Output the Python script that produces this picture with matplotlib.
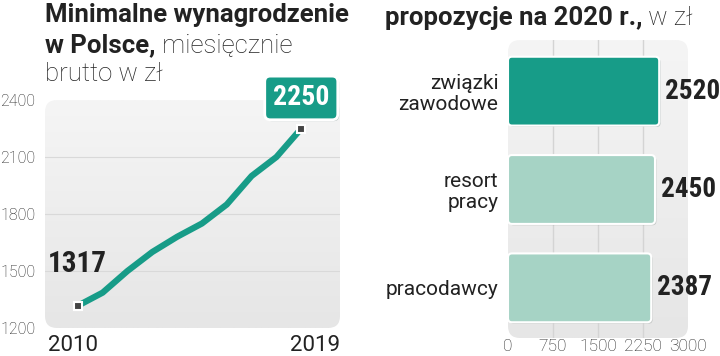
import numpy as np
import matplotlib
matplotlib.use("Agg")
import matplotlib.pyplot as plt
from matplotlib.patches import FancyBboxPatch
import matplotlib.patheffects as pe
from matplotlib import font_manager
from matplotlib.font_manager import FontProperties

# dane
years = [2010, 2011, 2012, 2013, 2014, 2015, 2016, 2017, 2018, 2019]
wages = [1317, 1386, 1500, 1600, 1680, 1750, 1850, 2000, 2100, 2250]
y_ticks = [1200, 1500, 1800, 2100, 2400]

categories = ["związki\nzawodowe", "resort\npracy", "pracodawcy"]
proposals = [2520, 2450, 2387]
x_ticks = [0, 750, 1500, 2250, 3000]

TEAL = "#179c88"
LIGHT = "#a6d3c5"
TXT = "#222222"

plt.rcParams["font.family"] = ["Roboto", "DejaVu Sans"]


def narrow_bold(size):
    # szukamy waskiego, pogrubionego kroju (liczby na wykresie)
    fonts = font_manager.fontManager.ttflist
    prefs = ["Roboto Condensed", "Liberation Sans Narrow", "DejaVu Sans Condensed",
             "Noto Sans Condensed", "Open Sans Condensed"]
    good = []
    for f in fonts:
        w = f.weight if isinstance(f.weight, int) else 700
        narrow = ("Narrow" in f.name or "Condensed" in f.name or "ondensed" in f.fname
                  or f.stretch in ("condensed", "semi-condensed", "extra-condensed"))
        if narrow and w >= 600 and "Italic" not in f.fname and f.style == "normal":
            good.append(f)
    if good:
        def rank(f):
            for i, p in enumerate(prefs):
                if p in f.name or p.replace(" ", "") in f.fname:
                    return i
            return len(prefs)
        good.sort(key=rank)
        return FontProperties(fname=good[0].fname, size=size)
    return FontProperties(family="Roboto", weight="bold", size=size * 0.85)


fig = plt.figure(figsize=(7.2, 3.56), dpi=100)
fig.patch.set_facecolor("white")


def panel(ax, w_px, h_px, r_px=12):
    # zaokraglone tlo z gradientem
    p = FancyBboxPatch((0, 0), 1, 1, boxstyle="round,pad=0,rounding_size=%f" % (r_px / w_px),
                       mutation_aspect=w_px / h_px, transform=ax.transAxes,
                       facecolor="none", edgecolor="none", zorder=0)
    ax.add_patch(p)
    grad = np.linspace(0, 1, 100).reshape(-1, 1)
    cmap = matplotlib.colors.LinearSegmentedColormap.from_list("g", ["#f5f5f5", "#e6e6e6"])
    im = ax.imshow(grad, extent=(0, 1, 0, 1), transform=ax.transAxes, cmap=cmap,
                   aspect="auto", zorder=0, origin="upper")
    im.set_clip_path(p)
    for s in ax.spines.values():
        s.set_visible(False)


def rich_line(x, y, parts):
    # kilka kawalkow tekstu w jednej linii
    r = fig.canvas.get_renderer()
    for txt, kw in parts:
        t = fig.text(x, y, txt, va="baseline", ha="left", **kw)
        bb = t.get_window_extent(r)
        x = bb.x1 / fig.bbox.width


# ---- wykres liniowy ----
ax1 = fig.add_axes([45 / 720, 1 - 328 / 356, 295 / 720, 228 / 356])
panel(ax1, 295, 228)
ax1.set_ylim(1200, 2400)
ax1.set_xlim(2008.68, 2020.56)
for v in y_ticks[1:-1]:
    ax1.axhline(v, color="#d9d9d9", lw=0.8, zorder=1)
ax1.plot(years, wages, color=TEAL, lw=4.5, solid_capstyle="butt", zorder=3)
ax1.plot([years[0], years[-1]], [wages[0], wages[-1]], ls="none", marker="s", ms=6,
         mfc="#444444", mec="white", mew=1.5, zorder=4)
ax1.set_yticks(y_ticks)
ax1.set_yticklabels([str(v) for v in y_ticks])
ax1.tick_params(axis="y", length=0, labelsize=11.5, labelcolor=TXT, pad=7)
for lb in ax1.get_yticklabels():
    lb.set_fontweight("light")
ax1.set_xticks([])
ax1.text(0.01, -0.03, str(years[0]), transform=ax1.transAxes, ha="left", va="top",
         fontsize=16, color=TXT)
ax1.text(1.0, -0.03, str(years[-1]), transform=ax1.transAxes, ha="right", va="top",
         fontsize=16, color=TXT)
ax1.annotate(str(wages[0]), (years[0], wages[0]), xytext=(0, 30), textcoords="offset points",
             ha="center", va="center", fontproperties=narrow_bold(21), color=TXT)
ax1.annotate(str(wages[-1]), (years[-1], wages[-1]), xytext=(0, 22), textcoords="offset points",
             ha="center", va="center", fontproperties=narrow_bold(20), color="white",
             bbox=dict(boxstyle="round,pad=0.3,rounding_size=0.2", fc=TEAL, ec="white", lw=2,
                       path_effects=[pe.SimplePatchShadow(offset=(1, -1), alpha=0.25), pe.Normal()]),
             zorder=5)

# ---- wykres slupkowy ----
ax2 = fig.add_axes([508 / 720, 1 - 338 / 356, 180 / 720, 298 / 356])
panel(ax2, 180, 298)
ax2.set_xlim(0, 3000)
ax2.set_ylim(2.51, -0.52)
for v in x_ticks[1:-1]:
    ax2.axvline(v, color="#d4d4d4", lw=1, zorder=1)
ypos = np.arange(len(categories))
bars = ax2.barh(ypos, proposals, height=0.70, color=[TEAL, LIGHT, LIGHT])
# zaokraglone rogi slupkow (z geometrii barh)
ux = 3000 / 180
uy = 3.03 / 298
for b in bars:
    b.set_visible(False)
    fb = FancyBboxPatch((b.get_x(), b.get_y()), b.get_width(), b.get_height(),
                        boxstyle="round,pad=0,rounding_size=%f" % (4 * ux),
                        mutation_aspect=uy / ux, fc=b.get_facecolor(), ec="white",
                        lw=1.5, zorder=3)
    fb.set_path_effects([pe.SimplePatchShadow(offset=(1, -1), alpha=0.2), pe.Normal()])
    ax2.add_patch(fb)
for yy, v in zip(ypos, proposals):
    ax2.annotate(str(v), (v, yy), xytext=(4, 0), textcoords="offset points", ha="left",
                 va="center", fontproperties=narrow_bold(19.5), color=TXT,
                 annotation_clip=False)
ax2.set_yticks(ypos)
ax2.set_yticklabels(categories, fontsize=15, color=TXT, linespacing=1.1)
ax2.set_xticks(x_ticks)
ax2.set_xticklabels([str(v) for v in x_ticks])
ax2.tick_params(axis="y", length=0, pad=7)
ax2.tick_params(axis="x", length=0, labelsize=12.5, labelcolor=TXT, pad=1)
for lb in ax2.get_xticklabels():
    lb.set_fontweight("light")

# ---- tytuly ----
bold = dict(fontsize=18.5, fontweight="bold", color=TXT)
light = dict(fontsize=18.5, fontweight="light", color=TXT)
rich_line(45 / 720, 1 - 22 / 356, [("Minimalne wynagrodzenie", bold)])
rich_line(45 / 720, 1 - 52 / 356, [("w Polsce,", bold), (" miesięcznie", light)])
rich_line(45 / 720, 1 - 81 / 356, [("brutto w zł", light)])
rich_line(385 / 720, 1 - 25 / 356, [("propozycje na 2020 r.,", bold), (" w zł", light)])

fig.savefig("out.png", dpi=100)
